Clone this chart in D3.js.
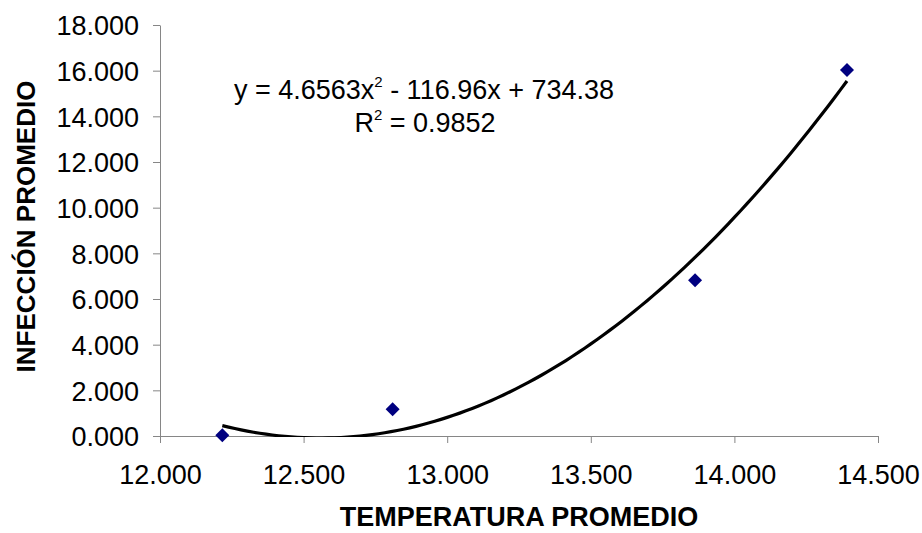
<!DOCTYPE html>
<html>
<head>
<meta charset="utf-8">
<script src="https://cdn.jsdelivr.net/npm/d3@7"></script>
<style>
  body { margin: 0; background: #fff; }
  text { font-family: Arial, "Liberation Sans", sans-serif; fill: #000; }
</style>
</head>
<body>
<div id="graph"></div>
<script>
// data
var temperatura = [12.217, 12.810, 13.863, 14.392];
var infeccion = [0.03, 1.17, 6.82, 16.03];
// polynomial trendline as printed on the chart: a x^2 + b x + c
var trendCoef = [4.6563, -116.96, 734.38];
var xTicks = [12.0, 12.5, 13.0, 13.5, 14.0, 14.5];
var yTicks = [0, 2, 4, 6, 8, 10, 12, 14, 16, 18];

var margin = {top: 25, right: 44, bottom: 97, left: 160},
    width = 922 - margin.left - margin.right,
    height = 533 - margin.top - margin.bottom;

var svg = d3.select("#graph")
  .append("svg")
    .attr("width", 922)
    .attr("height", 533)
  .append("g")
    .attr("transform", "translate(" + margin.left + "," + margin.top + ")");

var x = d3.scaleLinear().domain([12, 14.5]).range([0, width]);
var y = d3.scaleLinear().domain([0, 18]).range([height, 0]);
var fmt = d3.format(".3f");

// X axis
var gx = svg.append("g")
  .attr("transform", "translate(0," + height + ")")
  .call(d3.axisBottom(x).tickValues(xTicks).tickFormat(fmt).tickSize(7).tickSizeOuter(0));
gx.selectAll("text").attr("y", 29).attr("dy", "0.71em");

// Y axis
var gy = svg.append("g")
  .call(d3.axisLeft(y).tickValues(yTicks).tickFormat(fmt).tickSize(7).tickSizeOuter(0));
gy.selectAll("text").attr("x", -21).attr("dy", "0.36em");

svg.selectAll(".domain, .tick line").attr("stroke", "#868686");
svg.selectAll(".tick text").style("font-size", "27px").style("font-family", "Arial, 'Liberation Sans', sans-serif");

// trendline
svg.append("clipPath").attr("id", "plotclip")
  .append("rect").attr("x", 0).attr("y", 0).attr("width", width).attr("height", height + 1);

var lo = d3.min(temperatura), hi = d3.max(temperatura);
var trend = d3.range(0, 101).map(function(i) {
  var v = lo + (hi - lo) * i / 100;
  return {x: v, y: trendCoef[0] * v * v + trendCoef[1] * v + trendCoef[2]};
});

var line = d3.line()
  .x(function(d) { return x(d.x); })
  .y(function(d) { return y(d.y); })
  .curve(d3.curveMonotoneX);

svg.append("path")
  .datum(trend)
  .attr("clip-path", "url(#plotclip)")
  .attr("fill", "none")
  .attr("stroke", "#000")
  .attr("stroke-width", 3.2)
  .attr("d", line);

// points
svg.selectAll("path.pt")
  .data(temperatura)
  .enter()
  .append("path")
    .attr("class", "pt")
    .attr("d", d3.symbol().type(d3.symbolDiamond2).size(125))
    .attr("transform", function(d, i) { return "translate(" + x(d) + "," + y(infeccion[i]) + ")"; })
    .attr("fill", "#000080");

// equation label
var eq = svg.append("text")
  .attr("x", 264)
  .attr("y", 74)
  .attr("text-anchor", "middle")
  .style("font-size", "27px");
eq.append("tspan").text("y = " + trendCoef[0] + "x");
eq.append("tspan").attr("dy", -12).style("font-size", "15px").text("2");
eq.append("tspan").attr("dy", 12).text(" - " + Math.abs(trendCoef[1]) + "x + " + trendCoef[2]);

var r2 = svg.append("text")
  .attr("x", 265)
  .attr("y", 107)
  .attr("text-anchor", "middle")
  .style("font-size", "27px");
r2.append("tspan").text("R");
r2.append("tspan").attr("dy", -12).style("font-size", "15px").text("2");
r2.append("tspan").attr("dy", 12).text(" = 0.9852");

// axis titles
svg.append("text")
  .attr("x", width / 2)
  .attr("y", height + 90)
  .attr("text-anchor", "middle")
  .style("font-size", "27px")
  .style("font-weight", "bold")
  .text("TEMPERATURA PROMEDIO");

svg.append("text")
  .attr("transform", "translate(" + (35 - margin.left) + "," + (226.5 - margin.top) + ") rotate(-90)")
  .attr("text-anchor", "middle")
  .style("font-size", "26px")
  .style("font-weight", "bold")
  .text("INFECCIÓN PROMEDIO");
</script>
</body>
</html>
